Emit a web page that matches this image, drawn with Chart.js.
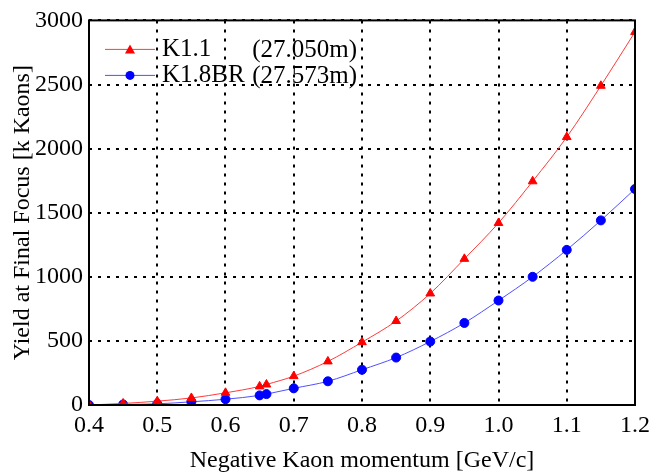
<!DOCTYPE html>
<html>
<head>
<meta charset="utf-8">
<script src="https://cdn.jsdelivr.net/npm/chart.js@4"></script>
<style>
  body { margin: 0; background: #fff; }
  #wrap { width: 662px; height: 476px; }
</style>
</head>
<body>
<div id="wrap"><canvas id="chart" width="662" height="476"></canvas></div>
<script>
// momentum points (GeV/c)
const momentum = [0.40, 0.45, 0.50, 0.55, 0.60, 0.65, 0.66, 0.70, 0.75, 0.80, 0.85, 0.90, 0.95, 1.00, 1.05, 1.10, 1.15, 1.20];
// yield [k Kaons]
const yieldK11 = [0, 12, 30, 55, 95, 145, 160, 225, 340, 490, 655, 870, 1140, 1420, 1745, 2090, 2490, 2910];
const yieldK18BR = [0, 4, 9, 25, 45, 75, 85, 130, 185, 275, 370, 495, 640, 815, 1000, 1210, 1440, 1685];

const seriesNames = ['K1.1', 'K1.8BR'];
const seriesLengths = ['(27.050m)', '(27.573m)'];

const xTicks = [0.4, 0.5, 0.6, 0.7, 0.8, 0.9, 1.0, 1.1, 1.2];
const yTicks = [0, 500, 1000, 1500, 2000, 2500, 3000];

const serif = 'Liberation Serif';

const toPoints = (xs, ys) => xs.map((x, i) => ({ x: x, y: ys[i] }));

// box around the plot + legend drawn inside the plot
const framePlugin = {
    id: 'frame',
    afterDraw(chart) {
        const { ctx, chartArea: a } = chart;
        ctx.save();
        ctx.strokeStyle = '#000';
        ctx.lineWidth = 2;
        ctx.strokeRect(a.left, a.top, a.right - a.left, a.bottom - a.top);

        ctx.font = '25px "' + serif + '"';
        ctx.textBaseline = 'middle';
        ctx.fillStyle = '#000';
        chart.data.datasets.forEach((ds, i) => {
            const y = a.top + 29 + i * 26;
            const x0 = a.left + 16;
            ctx.strokeStyle = ds.borderColor;
            ctx.lineWidth = 1;
            ctx.beginPath();
            ctx.moveTo(x0, y);
            ctx.lineTo(x0 + 50, y);
            ctx.stroke();
            ctx.fillStyle = ds.pointBackgroundColor;
            ctx.beginPath();
            if (ds.pointStyle === 'triangle') {
                ctx.moveTo(x0 + 25, y - 5);
                ctx.lineTo(x0 + 30, y + 4);
                ctx.lineTo(x0 + 20, y + 4);
                ctx.closePath();
            } else {
                ctx.arc(x0 + 25, y, 4.5, 0, Math.PI * 2);
            }
            ctx.fill();
            ctx.fillStyle = '#000';
            ctx.textAlign = 'left';
            ctx.fillText(seriesNames[i], x0 + 57, y);
            ctx.textAlign = 'right';
            ctx.fillText(seriesLengths[i], x0 + 252, y + 1);
        });
        ctx.restore();
    }
};

new Chart(document.getElementById('chart'), {
    type: 'line',
    data: {
        datasets: [
            {
                label: seriesNames[0],
                data: toPoints(momentum, yieldK11),
                borderColor: '#ff3b3b',
                backgroundColor: '#ff0000',
                pointBackgroundColor: '#ff0000',
                pointBorderColor: '#ff0000',
                pointStyle: 'triangle',
                pointRadius: 5,
                borderWidth: 1,
                cubicInterpolationMode: 'monotone'
            },
            {
                label: seriesNames[1],
                data: toPoints(momentum, yieldK18BR),
                borderColor: '#5050ff',
                backgroundColor: '#0000ff',
                pointBackgroundColor: '#0000ff',
                pointBorderColor: '#0000ff',
                pointStyle: 'circle',
                pointRadius: 4.5,
                borderWidth: 1,
                cubicInterpolationMode: 'monotone'
            }
        ]
    },
    options: {
        responsive: false,
        animation: false,
        layout: { padding: { left: 0, right: 27, top: 15, bottom: 0 } },
        plugins: { legend: { display: false }, tooltip: { enabled: false } },
        scales: {
            x: {
                type: 'linear',
                min: 0.4,
                max: 1.2,
                afterFit: s => { s.height = 71; },
                afterBuildTicks: s => { s.ticks = xTicks.map(v => ({ value: v })); },
                ticks: {
                    color: '#000',
                    font: { family: serif, size: 24 },
                    padding: 6,
                    maxRotation: 0,
                    callback: v => Number(v).toFixed(1)
                },
                grid: { color: '#000', lineWidth: 2, drawTicks: false },
                border: { display: false, dash: [3, 6] },
                title: {
                    display: true,
                    text: 'Negative Kaon momentum [GeV/c]',
                    color: '#000',
                    font: { family: serif, size: 24 },
                    padding: { top: 1, bottom: 1 }
                }
            },
            y: {
                min: 0,
                max: 3000,
                afterFit: s => { s.width = 89; },
                afterBuildTicks: s => { s.ticks = yTicks.map(v => ({ value: v })); },
                ticks: {
                    color: '#000',
                    font: { family: serif, size: 24 },
                    padding: 6,
                    callback: v => String(v)
                },
                grid: { color: '#000', lineWidth: 2, drawTicks: false },
                border: { display: false, dash: [3, 6] },
                title: {
                    display: true,
                    text: 'Yield at Final Focus [k Kaons]',
                    color: '#000',
                    font: { family: serif, size: 24 },
                    padding: { top: 8, bottom: 0 }
                }
            }
        }
    },
    plugins: [framePlugin]
});
</script>
</body>
</html>
